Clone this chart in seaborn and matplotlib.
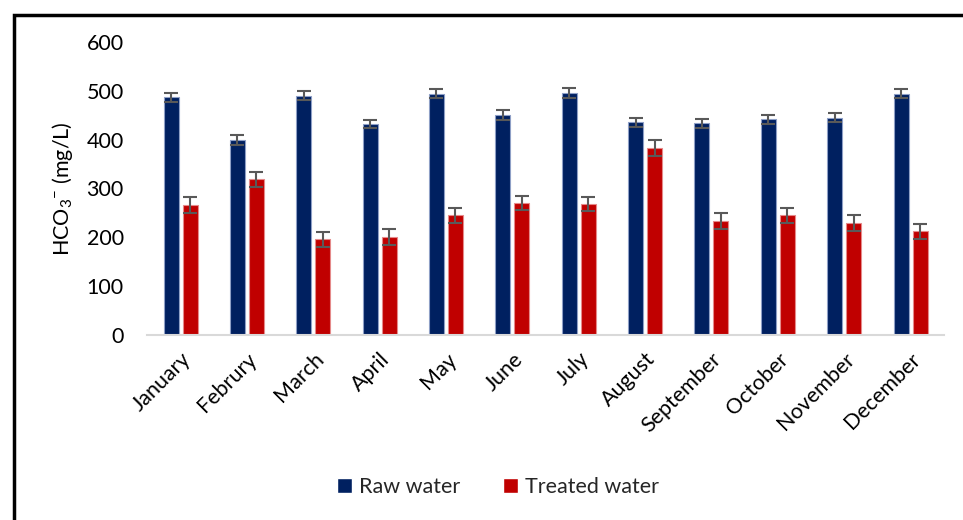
import pandas as pd
import matplotlib.pyplot as plt
import seaborn as sns
from matplotlib.patches import Rectangle

# -----------------------------
# Veriler
# -----------------------------
months = ["January", "Februry", "March", "April", "May", "June", "July",
          "August", "September", "October", "November", "December"]
raw_water = [487, 399, 490, 432, 494, 450, 496, 436, 434, 442, 445, 494]
treated_water = [266, 319, 196, 201, 245, 270, 268, 383, 234, 245, 229, 212]
raw_err = [9, 10, 9, 9, 9, 10, 10, 9, 9, 9, 9, 9]
treated_err = [16, 15, 15, 16, 16, 15, 15, 16, 16, 16, 16, 16]
series_names = ["Raw water", "Treated water"]
colors = ["#002060", "#C00000"]
edge_colors = ["#8e9fc6", "#e58a8a"]

df = pd.DataFrame({
    "Month": months * 2,
    "Value": raw_water + treated_water,
    "Err": raw_err + treated_err,
    "Series": [series_names[0]] * len(months) + [series_names[1]] * len(months),
})

sns.set_style("white")
plt.rcParams["font.family"] = ["Lato", "DejaVu Sans"]
plt.rcParams["mathtext.default"] = "regular"
fs = 15.5

fig = plt.figure(figsize=(9.63, 5.2), dpi=100)
ax = fig.add_axes([0.153, 0.356, 0.827, 0.563])

sns.barplot(data=df, x="Month", y="Value", hue="Series", palette=colors,
            saturation=1, width=0.572, gap=0.21, errorbar=None, ax=ax)

# kenar renkleri + hata çubukları
for cont, ec, name in zip(ax.containers, edge_colors, series_names):
    sub = df[df["Series"] == name]
    xs, ys = [], []
    for bar in cont:
        bar.set_edgecolor(ec)
        bar.set_linewidth(0.8)
        xs.append(bar.get_x() + bar.get_width() / 2)
        ys.append(bar.get_height())
    ax.errorbar(xs, ys, yerr=sub["Err"].values, fmt="none", ecolor="#595959",
                elinewidth=1.5, capsize=5, capthick=1.5, zorder=5)

ax.set_ylim(0, 600)
ax.set_yticks(range(0, 601, 100))
ax.set_xlim(-0.5, len(months) - 0.5)
ax.set_xlabel("")
ax.set_ylabel(r"HCO$_{3}$$^{-}$ (mg/L)", fontsize=fs, color="#000000", labelpad=8)

for s in ["top", "right", "left"]:
    ax.spines[s].set_visible(False)
ax.spines["bottom"].set_color("#d9d9d9")
ax.spines["bottom"].set_linewidth(1.5)

ax.tick_params(axis="y", length=0, pad=17, labelsize=fs, labelcolor="#000000")
ax.tick_params(axis="x", length=0, pad=10, labelsize=fs, labelcolor="#000000")
plt.setp(ax.get_xticklabels(), rotation=45, ha="right", rotation_mode="anchor")

ax.legend(loc="center", bbox_to_anchor=(0.517, 0.063), bbox_transform=fig.transFigure,
          ncol=2, frameon=False, fontsize=fs, handlelength=0.7, handleheight=0.7,
          handletextpad=0.3, columnspacing=2.0)

# siyah çerçeve
fig.patches.append(Rectangle((14 / 963, -0.5), 2.0, 1.0 - 15 / 520 + 0.5,
                             transform=fig.transFigure, fill=False,
                             edgecolor="black", linewidth=2.5, clip_on=False))

plt.savefig("out.png", dpi=100)
